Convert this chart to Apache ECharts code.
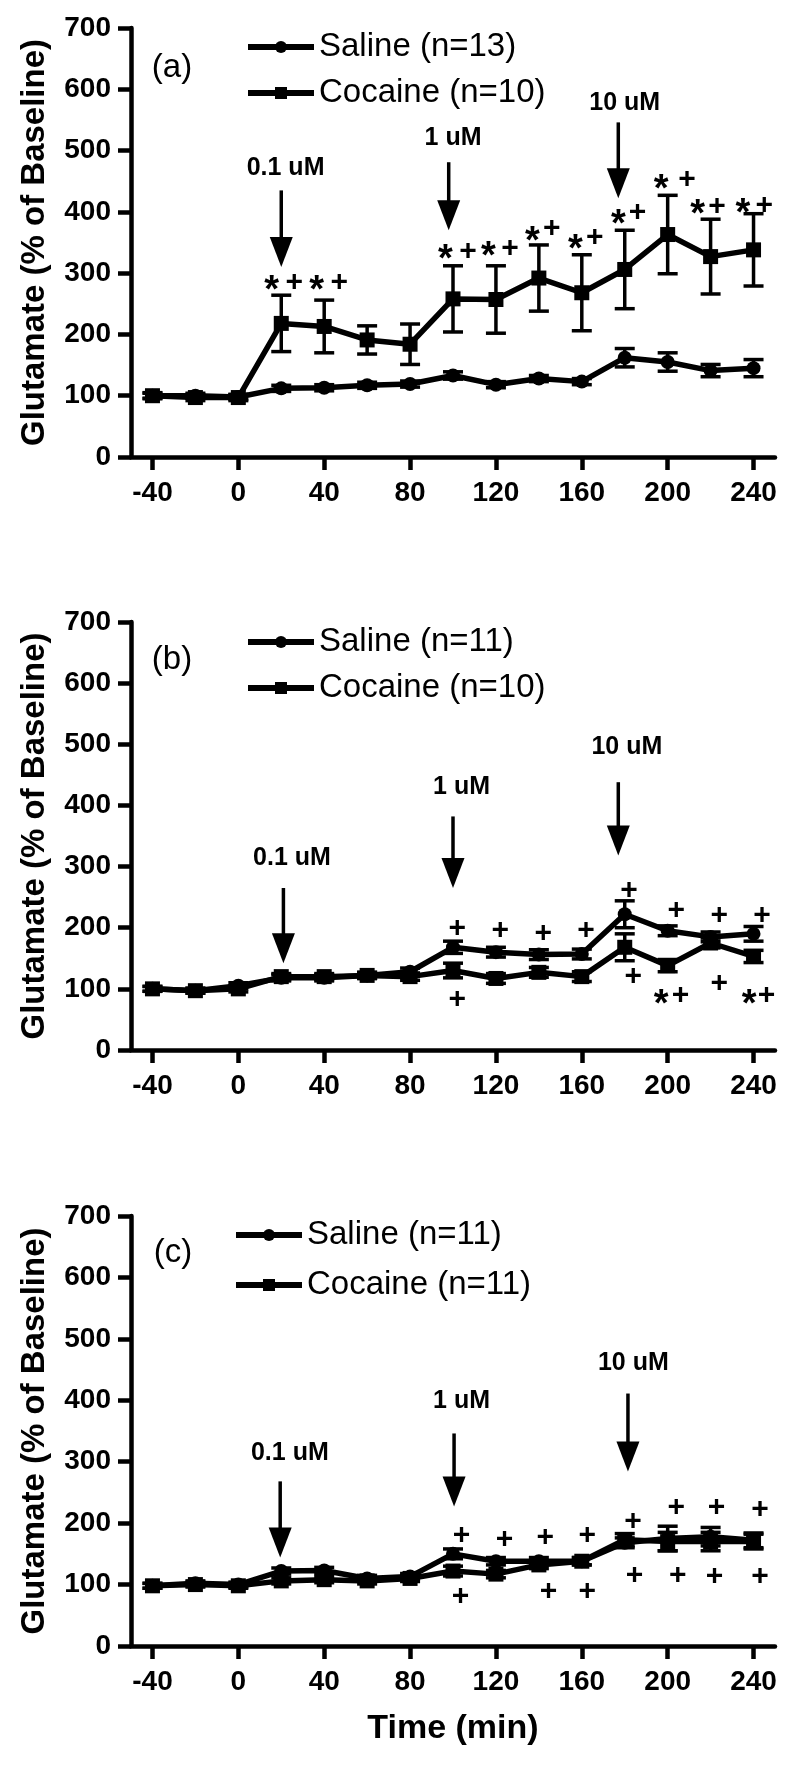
<!DOCTYPE html>
<html><head><meta charset="utf-8">
<script src="https://cdn.jsdelivr.net/npm/echarts@6/dist/echarts.min.js"></script>
<style>html,body{margin:0;padding:0;background:#fff}#c{width:800px;height:1767px}</style>
</head><body><div id="c"></div>
<script>
const timePts = [-40,-20,0,20,40,60,80,100,120,140,160,180,200,220,240];
const xTickLabels = [-40,0,40,80,120,160,200,240];

// Panel (a)
const salineA    = [100,100,98,112,113,117,119,133,118,128,123,162,155,141,145];
const salineAErr = [4,4,4,5,5,5,5,6,5,5,5,15,15,10,14];
const cocaineA    = [100,97,97,218,213,191,184,258,257,292,268,306,363,327,338];
const cocaineAErr = [5,5,5,46,43,23,33,54,55,54,62,64,64,61,59];
// Panel (b)
const salineB    = [100,97,105,118,118,122,128,168,160,156,157,222,195,185,190];
const salineBErr = [4,4,5,5,5,5,6,10,8,8,8,22,8,8,12];
const cocaineB    = [100,97,100,120,120,122,120,130,117,127,120,168,138,175,153];
const cocaineBErr = [4,4,5,5,5,5,6,12,8,8,8,22,10,8,10];
// Panel (c)
const salineC    = [98,102,100,122,123,110,113,150,138,138,138,168,175,178,172];
const salineCErr = [4,4,4,5,5,5,5,8,6,6,6,8,20,15,12];
const cocaineC    = [98,100,98,106,108,106,110,122,117,132,138,173,170,170,170];
const cocaineCErr = [4,4,4,5,5,5,5,8,6,6,6,10,15,15,12];

const legendA = ['Saline (n=13)','Cocaine (n=10)'];
const legendB = ['Saline (n=11)','Cocaine (n=10)'];
const legendC = ['Saline (n=11)','Cocaine (n=11)'];
const panelLabels = ['(a)','(b)','(c)'];

// arrows: [x, yStart, yTip, labelX, labelY, text]
const arrowsA = [[20,435,310,22,471,'0.1 uM'],[98,481,370,100,520,'1 uM'],[177,546,422,180,577,'10 uM']];
const arrowsB = [[21,265,142,25,314,'0.1 uM'],[100,382,265,104,430,'1 uM'],[177,438,318,181,496,'10 uM']];
const arrowsC = [[19.5,268,144,24,314,'0.1 uM'],[100.5,346,227,104,398,'1 uM'],[181.5,411,284,184,460,'10 uM']];

// significance marks [x, y]
const starsA = [[15.5,284],[36.5,284],[96.5,335],[116.5,340],[137,365],[157,351],[177,392],[197,449],[214,408],[235,410]];
const plusA  = [[26,284],[47,284],[107,335],[126.5,340],[146,373],[166,357],[186,398],[209,452],[223,408],[245,410]];
const starsB = [[197,88],[238,88]];
const plusB  = [[102,198],[122,195],[142,190],[162,195],[182,260],[204,228],[224,220],[244,220],
                [102,82],[184,120],[206,88],[224,108],[246,88]];
const starsC = [];
const plusC  = [[104,179],[124,173],[143,176],[162.6,179],[183.8,203],[204,225],[222.7,225],[243,222],
                [103.5,81],[144.5,89],[162.6,89],[184.6,114],[204.7,114],[221.8,112],[243,112]];

const X_MIN = -50, X_MAX = 250, Y_MIN = 0, Y_MAX = 700;
const FONT = 'Liberation Sans, Arial, sans-serif';
const grids = [
  {left:131, top:28, width:644, height:429},
  {left:131, top:622, width:644, height:428},
  {left:131, top:1216, width:644, height:430}
];
function mkX(i){
  const o = {
    type:'value', gridIndex:i, min:X_MIN, max:X_MAX,
    axisLine:{show:true, onZero:false, lineStyle:{color:'#000', width:4.5}},
    axisTick:{show:true, length:13, lineStyle:{color:'#000', width:4.5}, customValues:xTickLabels},
    axisLabel:{show:true, margin:22, color:'#000', fontFamily:FONT, fontWeight:'bold', fontSize:28, customValues:xTickLabels},
    splitLine:{show:false}
  };
  if (i===2) { o.name='Time (min)'; o.nameLocation='middle'; o.nameGap=66;
    o.nameTextStyle={color:'#000', fontFamily:FONT, fontWeight:'bold', fontSize:34}; }
  return o;
}
function mkY(i){
  return {
    type:'value', gridIndex:i, min:Y_MIN, max:Y_MAX, interval:100,
    axisLine:{show:true, onZero:false, lineStyle:{color:'#000', width:4.5}},
    axisTick:{show:true, length:13, lineStyle:{color:'#000', width:4.5}},
    axisLabel:{show:true, margin:20, color:'#000', fontFamily:FONT, fontWeight:'bold', fontSize:28},
    splitLine:{show:false},
    name:'Glutamate (% of Baseline)', nameLocation:'middle', nameGap:80, nameRotate:90,
    nameTextStyle:{color:'#000', fontFamily:FONT, fontWeight:'bold', fontSize:33}
  };
}
function lineSeries(i, name, vals, sym){
  return {
    type:'line', name:name, xAxisIndex:i, yAxisIndex:i,
    data: timePts.map((t,k)=>[t, vals[k]]),
    symbol: sym, symbolSize: sym==='rect'?15:14, showSymbol:true,
    lineStyle:{color:'#000', width:5.5}, itemStyle:{color:'#000'},
    z: sym==='rect'?4:3, animation:false
  };
}
function errRender(params, api){
  const x = api.value(0), lo = api.value(1), hi = api.value(2);
  const p1 = api.coord([x, hi]), p2 = api.coord([x, lo]);
  const w = 10, st = {stroke:'#000', lineWidth:3.5};
  return {type:'group', children:[
    {type:'line', shape:{x1:p1[0],y1:p1[1],x2:p2[0],y2:p2[1]}, style:st},
    {type:'line', shape:{x1:p1[0]-w,y1:p1[1],x2:p1[0]+w,y2:p1[1]}, style:st},
    {type:'line', shape:{x1:p2[0]-w,y1:p2[1],x2:p2[0]+w,y2:p2[1]}, style:st}
  ]};
}
function errSeries(i, vals, errs){
  return {
    type:'custom', xAxisIndex:i, yAxisIndex:i, renderItem:errRender,
    data: timePts.map((t,k)=>[t, vals[k]-errs[k], vals[k]+errs[k]]),
    encode:{x:0, y:[1,2]}, z:2, silent:true, animation:false
  };
}
function arrowSeries(i, arr){
  return {
    type:'custom', xAxisIndex:i, yAxisIndex:i, silent:true, animation:false, z:5,
    data: arr.map(a=>[a[0], a[1], a[2]]),
    encode:{x:0, y:[1,2]},
    renderItem: function(params, api){
      const a = arr[params.dataIndex];
      const s = api.coord([a[0], a[1]]), t = api.coord([a[0], a[2]]);
      const lp = api.coord([a[3], a[4]]);
      const hh = 30, hw = 11.5;
      return {type:'group', children:[
        {type:'line', shape:{x1:s[0],y1:s[1],x2:t[0],y2:t[1]-hh+2}, style:{stroke:'#000', lineWidth:3.5}},
        {type:'polygon', shape:{points:[[t[0]-hw,t[1]-hh],[t[0]+hw,t[1]-hh],[t[0],t[1]]]}, style:{fill:'#000'}},
        {type:'text', x:lp[0], y:lp[1], style:{text:a[5], fill:'#000', font:'bold 25px '+FONT, align:'center', verticalAlign:'middle'}}
      ]};
    }
  };
}
function markSeries(i, pts, ch, size, dy){
  return {
    type:'custom', xAxisIndex:i, yAxisIndex:i, silent:true, animation:false, z:6,
    data: pts, encode:{x:0, y:1},
    renderItem: function(params, api){
      const p = api.coord([api.value(0), api.value(1)]);
      return {type:'text', x:p[0], y:p[1]+dy, style:{text:ch, fill:'#000', font:'bold '+size+'px '+FONT, align:'center', verticalAlign:'middle'}};
    }
  };
}

const series = [];
const panels = [
  [salineA,salineAErr,cocaineA,cocaineAErr,legendA,arrowsA,starsA,plusA],
  [salineB,salineBErr,cocaineB,cocaineBErr,legendB,arrowsB,starsB,plusB],
  [salineC,salineCErr,cocaineC,cocaineCErr,legendC,arrowsC,starsC,plusC]
];
panels.forEach((p,i)=>{
  series.push(errSeries(i, p[0], p[1]));
  series.push(errSeries(i, p[2], p[3]));
  series.push(lineSeries(i, p[4][0], p[0], 'circle'));
  series.push(lineSeries(i, p[4][1], p[2], 'rect'));
  series.push(arrowSeries(i, p[5]));
  if (p[6].length) series.push(markSeries(i, p[6], '*', 38, 9));
  series.push(markSeries(i, p[7], '+', 30, 0));
});

const legendPos = [{left:245, top:27},{left:245, top:622},{left:233, top:1215}];
const legends = panels.map((p,i)=>({
  data:p[4].map(n=>({name:n})), orient:'vertical', left:legendPos[i].left, top:legendPos[i].top,
  padding:0, itemWidth:66, itemHeight:15, itemGap: i===2?10:6,
  selectedMode:false,
  lineStyle:{width:6, color:'#000'},
  itemStyle:{color:'#000'},
  textStyle:{color:'#000', fontFamily:FONT, fontSize:33, lineHeight:40}
}));

const labelPos = [[172,68],[172,660],[173,1253]];
const graphic = panelLabels.map((t,i)=>({
  type:'text', x:labelPos[i][0], y:labelPos[i][1], silent:true,
  style:{text:t, fill:'#000', font:'33px '+FONT, align:'center', verticalAlign:'middle'}
}));

const chart = echarts.init(document.getElementById('c'), null, {renderer:'canvas'});
chart.setOption({
  animation:false, backgroundColor:'#fff',
  grid:grids, xAxis:[0,1,2].map(mkX), yAxis:[0,1,2].map(mkY),
  legend:legends, series:series, graphic:graphic
});
</script></body></html>
